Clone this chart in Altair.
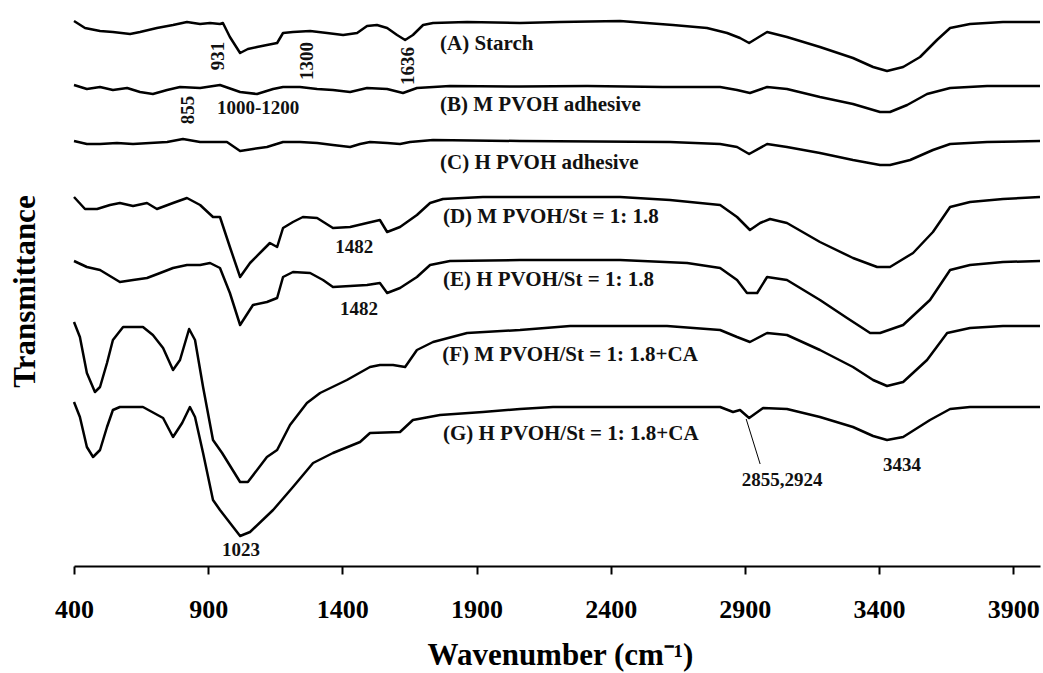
import altair as alt
import pandas as pd

# ---- spectra (wavenumber cm-1, transmittance in arbitrary offset units) ----
A_w = [400, 441, 497, 545, 609, 646, 709, 769, 821, 870, 907, 944, 955, 981, 1019, 1048, 1082, 1119, 1157, 1179, 1216, 1280, 1343, 1403, 1455, 1492, 1529, 1567, 1604, 1634, 1663, 1701, 1738, 1865, 2062, 2211, 2435, 2632, 2759, 2834, 2882, 2916, 2983, 3057, 3180, 3303, 3378, 3430, 3490, 3553, 3616, 3665, 3739, 3862, 4000]
A_t = [545, 538, 535, 534, 532, 534, 538, 541, 544, 542, 543, 542, 543, 529, 513, 517, 519, 521, 523, 533, 534, 535, 533, 531, 533, 540, 541, 538, 531, 526, 531, 541, 543, 544, 543, 544, 545, 541, 538, 533, 528, 523, 534, 529, 519, 508, 499, 495, 499, 509, 526, 538, 542, 544, 544]

B_w = [400, 448, 497, 545, 598, 646, 694, 747, 795, 870, 944, 1019, 1082, 1142, 1179, 1242, 1306, 1365, 1429, 1492, 1567, 1626, 1678, 1801, 2062, 2312, 2595, 2808, 2871, 2919, 2983, 3057, 3180, 3303, 3404, 3441, 3505, 3579, 3665, 3803, 4000]
B_t = [481, 477, 479, 476, 478, 474, 472, 476, 479, 478, 481, 474, 472, 477, 479, 479, 477, 476, 474, 478, 477, 473, 478, 480, 479.5, 480, 479, 479, 476, 473, 479, 477, 469, 462, 454, 454, 461, 472, 478, 480, 480]

C_w = [400, 448, 497, 560, 620, 683, 747, 806, 870, 970, 1019, 1067, 1119, 1179, 1242, 1306, 1365, 1429, 1466, 1503, 1567, 1615, 1652, 1738, 2062, 2621, 2808, 2871, 2916, 2983, 3057, 3180, 3303, 3404, 3441, 3516, 3601, 3665, 3803, 4000]
C_t = [425, 422, 422, 423, 422, 423, 424, 427, 424, 424, 415, 417, 419, 424, 424, 423, 421, 419, 422, 424, 423, 422, 424, 426, 425, 424, 422, 419, 412, 422, 419, 413, 406, 401, 401, 406, 416, 422, 424, 425]

D_w = [400, 441, 486, 534, 571, 620, 672, 709, 769, 821, 870, 918, 944, 981, 1019, 1056, 1104, 1130, 1157, 1179, 1216, 1253, 1306, 1365, 1429, 1492, 1540, 1567, 1615, 1678, 1727, 1775, 1924, 2062, 2435, 2621, 2808, 2871, 2919, 2957, 2994, 3057, 3180, 3303, 3393, 3441, 3527, 3601, 3665, 3739, 3862, 4000]
D_t = [369, 357, 357, 361, 363, 360, 363, 357, 363, 368, 361, 349, 349, 319, 289, 303, 316, 323, 319, 338, 344, 349, 348, 338, 339, 343, 346, 334, 339, 351, 363, 367, 369, 369, 369, 366, 361, 349, 336, 343, 347, 343, 324, 308, 299, 299, 313, 334, 359, 364, 367, 369]

E_w = [400, 448, 497, 534, 571, 620, 672, 721, 769, 821, 870, 907, 944, 981, 1019, 1067, 1119, 1157, 1179, 1216, 1280, 1328, 1365, 1429, 1492, 1540, 1567, 1615, 1678, 1727, 1801, 2062, 2435, 2685, 2808, 2871, 2908, 2946, 2983, 3057, 3180, 3281, 3367, 3404, 3490, 3590, 3665, 3739, 3862, 4000]
E_t = [305, 299, 296, 290, 284, 286, 288, 293, 298, 301, 301, 303, 298, 273, 241, 261, 264, 268, 289, 294, 293, 286, 279, 280, 281, 283, 273, 278, 289, 301, 305, 306, 306, 303, 298, 286, 273, 273, 289, 286, 266, 248, 233, 233, 241, 266, 296, 301, 304, 305]

F_w = [400, 422, 448, 478, 497, 523, 545, 583, 657, 694, 732, 769, 795, 829, 851, 881, 918, 952, 1019, 1048, 1119, 1157, 1205, 1268, 1317, 1417, 1503, 1540, 1589, 1634, 1678, 1738, 1865, 2062, 2249, 2610, 2808, 2871, 2919, 2983, 3057, 3180, 3303, 3378, 3430, 3490, 3579, 3654, 3739, 3862, 4000]
F_t = [244, 229, 193, 174, 179, 203, 226, 239, 239, 231, 218, 196, 206, 237, 226, 179, 126, 113, 84, 84, 109, 116, 141, 163, 173, 186, 199, 201, 201, 199, 216, 224, 233, 236, 240, 240, 236, 229, 224, 233, 231, 216, 199, 186, 180, 184, 206, 233, 238, 240, 240]

G_w = [400, 422, 448, 471, 497, 523, 545, 571, 657, 732, 769, 803, 832, 851, 881, 918, 944, 1019, 1056, 1142, 1216, 1291, 1365, 1466, 1503, 1615, 1663, 1764, 1924, 2062, 2185, 2808, 2856, 2882, 2916, 2968, 3057, 3180, 3303, 3378, 3430, 3490, 3590, 3665, 3739, 4000]
G_t = [164, 149, 119, 109, 116, 139, 156, 159, 159, 148, 129, 143, 159, 149, 113, 66, 56, 30, 34, 56, 79, 103, 113, 124, 133, 134, 146, 151, 154, 157, 159, 159, 154, 156, 148, 158, 157, 149, 139, 130, 126, 129, 146, 157, 159, 159]

series = [("A", A_w, A_t), ("B", B_w, B_t), ("C", C_w, C_t), ("D", D_w, D_t),
          ("E", E_w, E_t), ("F", F_w, F_t), ("G", G_w, G_t)]

# ---- text labels ----
label_text = ["(A) Starch", "(B) M PVOH adhesive", "(C) H PVOH adhesive",
              "(D) M PVOH/St = 1: 1.8", "(E) H PVOH/St = 1: 1.8",
              "(F) M PVOH/St = 1: 1.8+CA", "(G) H PVOH/St = 1: 1.8+CA"]
label_w = [1764, 1764, 1764, 1775, 1775, 1772, 1775]
label_t = [516, 455, 397, 343, 280, 205, 126]

peak_text = ["1000-1200", "1482", "1482", "1023", "2855,2924", "3434"]
peak_w = [1086, 1444, 1462, 1022, 3039, 3486]
peak_t = [458, 319, 257, 16, 86, 101]

vpeak_text = ["931", "1300", "1636", "855"]
vpeak_w = [937, 1268, 1645, 825]
vpeak_t = [510, 505, 500, 456]

leader_w = [2905]
leader_w2 = [2957]
leader_t = [147]
leader_t2 = [102]

x_ticks = [400, 900, 1400, 1900, 2400, 2900, 3400, 3900]

rows = []
for name, ws, ts in series:
    for w, t in zip(ws, ts):
        rows.append({"series": name, "w": w, "t": t})
df = pd.DataFrame(rows)

FONT = "Liberation Serif"
xscale = alt.Scale(domain=[400, 4000], nice=False, zero=False)
yscale = alt.Scale(domain=[0, 566], nice=False, zero=False)

lines = alt.Chart(df).mark_line(color="black", strokeWidth=2.5, strokeJoin="round").encode(
    x=alt.X("w:Q", scale=xscale, axis=alt.Axis(
        values=x_ticks, format="d", grid=False, domainColor="black", domainWidth=2,
        tickColor="black", tickWidth=2, tickSize=8,
        labelFont=FONT, labelFontSize=26, labelFontWeight="bold", labelColor="black",
        labelPadding=22, labelFlush=False, labelOverlap=False,
        title="Wavenumber (cm⁻¹)", titleFont=FONT, titleFontSize=31, titleFontWeight="bold",
        titleColor="black", titleX=486, titleY=98, titleBaseline="alphabetic")),
    y=alt.Y("t:Q", scale=yscale, axis=alt.Axis(
        domain=False, ticks=False, labels=False, grid=False,
        title="Transmittance", titleFont=FONT, titleFontSize=31, titleFontWeight="bold",
        titleColor="black", titleX=-49, titleY=291, titleAngle=270,
        titleBaseline="middle", titleAlign="center")),
    detail="series:N",
)

labels_df = pd.DataFrame({"text": label_text, "w": label_w, "t": label_t})
labels = alt.Chart(labels_df).mark_text(
    font=FONT, fontSize=21, fontWeight="bold", color="#111111",
    align="left", baseline="alphabetic").encode(
    x=alt.X("w:Q", scale=xscale), y=alt.Y("t:Q", scale=yscale), text="text:N")

peaks_df = pd.DataFrame({"text": peak_text, "w": peak_w, "t": peak_t})
peaks = alt.Chart(peaks_df).mark_text(
    font=FONT, fontSize=19, fontWeight="bold", color="#111111",
    align="center", baseline="middle").encode(
    x=alt.X("w:Q", scale=xscale), y=alt.Y("t:Q", scale=yscale), text="text:N")

vpeaks_df = pd.DataFrame({"text": vpeak_text, "w": vpeak_w, "t": vpeak_t})
vpeaks = alt.Chart(vpeaks_df).mark_text(
    font=FONT, fontSize=19, fontWeight="bold", color="#111111",
    align="center", baseline="middle", angle=270).encode(
    x=alt.X("w:Q", scale=xscale), y=alt.Y("t:Q", scale=yscale), text="text:N")

leader_df = pd.DataFrame({"w": leader_w, "w2": leader_w2, "t": leader_t, "t2": leader_t2})
leader = alt.Chart(leader_df).mark_rule(color="black", strokeWidth=1).encode(
    x=alt.X("w:Q", scale=xscale), x2="w2:Q",
    y=alt.Y("t:Q", scale=yscale), y2="t2:Q")

chart = alt.layer(lines, leader, labels, peaks, vpeaks).properties(
    width=966, height=566,
    autosize=alt.AutoSizeParams(type="none"),
    padding={"left": 74, "top": 0, "right": 3, "bottom": 107},
    background="white",
).configure_view(stroke=None)

chart.save("out.html", embed_options={"renderer": "svg", "actions": False})
